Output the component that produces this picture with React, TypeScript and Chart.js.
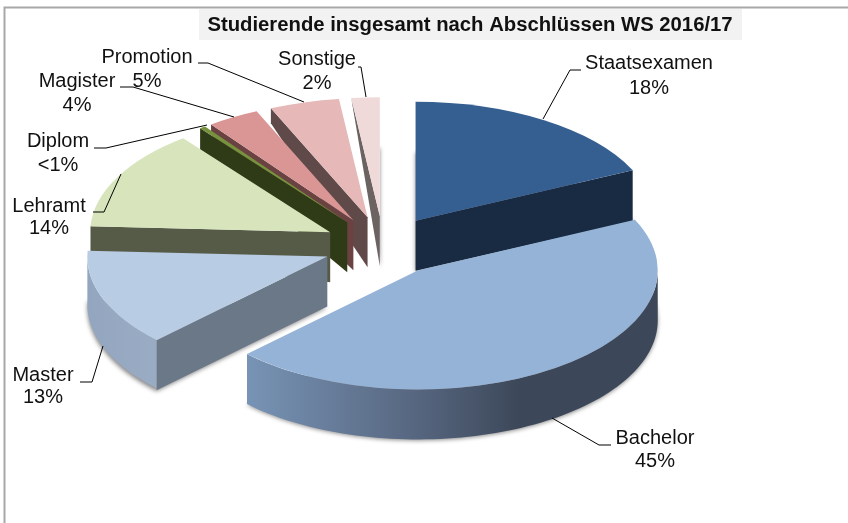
import React, { useEffect, useRef } from "react";
import { Chart, registerables } from "chart.js";

Chart.register(...registerables);

// ---- data ----
const categories = ["Staatsexamen", "Bachelor", "Master", "Lehramt", "Diplom", "Magister", "Promotion", "Sonstige"];
const shares = [18, 44.6, 13.2, 13.7, 0.4, 3.5, 4.7, 1.9];
const shareLabels = ["18%", "45%", "13%", "14%", "<1%", "4%", "5%", "2%"];
const titleText = "Studierende insgesamt nach Abschlüssen WS 2016/17";

// ---- styles ----
const topColors = ["#365f91", "#95b3d7", "#b8cce4", "#d7e4bc", "#76923c", "#d99694", "#e6b9b8", "#f0dad9"];
const wallColors = ["#182b43", "#3c4859", "#6b7888", "#565b48", "#2f3a16", "#6a4241", "#5f4a49", "#6b6361"];
const outerDepths = [51, 50, 50, 25, 22, 10, 15, 0];
const paintOrder = [7, 6, 5, 4, 3, 0, 2, 1];
const FONT = '"Liberation Sans", Arial, sans-serif';
const PIE = { cx: 383.4, cy: 246, radius: 240, squash: 0.496, explode: 60, depth: 50 };

// centre of the text, [line1Y, line2Y], and the leader polyline for each label
const labelLayout: { x: number; y1: number; y2: number; leader: number[][] }[] = [
  { x: 649, y1: 63, y2: 88, leader: [[581, 70], [570, 70], [543, 119]] },
  { x: 655, y1: 438, y2: 461, leader: [[611, 445], [599, 445], [552, 418]] },
  { x: 43, y1: 375, y2: 397, leader: [[80, 382], [92, 382], [103, 346]] },
  { x: 49, y1: 206, y2: 228, leader: [[93, 212], [104, 212], [121, 174]] },
  { x: 58, y1: 141, y2: 165, leader: [[94, 148], [106, 148], [207, 125]] },
  { x: 77, y1: 81, y2: 105, leader: [[120, 87], [133, 87], [234, 117]] },
  { x: 147, y1: 57, y2: 81, leader: [[198, 63], [208, 63], [304, 102]] },
  { x: 317, y1: 59, y2: 83, leader: [[358, 67], [361, 67], [366, 97]] },
];

function apexOf(arc: any) {
  const mid = (arc.startAngle + arc.endAngle) / 2;
  return {
    x: PIE.cx + Math.cos(mid) * PIE.explode,
    y: PIE.cy + Math.sin(mid) * PIE.explode * PIE.squash,
  };
}

function rimPoint(apex: { x: number; y: number }, r: number, t: number) {
  return { x: apex.x + Math.cos(t) * r, y: apex.y + Math.sin(t) * r * PIE.squash };
}

function drawFace(ctx: CanvasRenderingContext2D, arc: any, ax: number, ay: number) {
  ctx.save();
  ctx.translate(ax, ay);
  ctx.scale(1, PIE.squash);
  ctx.translate(-arc.x, -arc.y);
  arc.draw(ctx);
  ctx.restore();
}

function drawRadialWall(ctx: CanvasRenderingContext2D, apex: any, r: number, t: number, outerDepth: number, fill: string) {
  const p = rimPoint(apex, r, t);
  ctx.fillStyle = fill;
  ctx.beginPath();
  ctx.moveTo(apex.x, apex.y);
  ctx.lineTo(p.x, p.y);
  ctx.lineTo(p.x, p.y + outerDepth);
  ctx.lineTo(apex.x, apex.y + PIE.depth);
  ctx.closePath();
  ctx.fill();
}

function drawRimWall(ctx: CanvasRenderingContext2D, apex: any, r: number, t0: number, t1: number, depth: number, fill: any) {
  const steps = 80;
  ctx.fillStyle = fill;
  ctx.beginPath();
  for (let i = 0; i <= steps; i++) {
    const p = rimPoint(apex, r, t0 + ((t1 - t0) * i) / steps);
    if (i === 0) ctx.moveTo(p.x, p.y);
    else ctx.lineTo(p.x, p.y);
  }
  for (let i = steps; i >= 0; i--) {
    const p = rimPoint(apex, r, t0 + ((t1 - t0) * i) / steps);
    ctx.lineTo(p.x, p.y + depth);
  }
  ctx.closePath();
  ctx.fill();
}

function drawShadow(ctx: CanvasRenderingContext2D, arc: any, apex: any, clipRight: boolean) {
  const far = 3000;
  ctx.save();
  if (clipRight) {
    ctx.beginPath();
    ctx.rect(apex.x, 0, 848, 523);
    ctx.clip();
  }
  ctx.shadowColor = "rgba(40,40,40,0.55)";
  ctx.shadowBlur = 4;
  ctx.shadowOffsetX = far;
  ctx.shadowOffsetY = 1;
  drawFace(ctx, arc, apex.x - far, apex.y + PIE.depth);
  ctx.restore();
}

const pie3dPlugin = {
  id: "pie3d",
  beforeDraw(chart: any) {
    const { ctx } = chart;
    ctx.save();
    ctx.fillStyle = "#ffffff";
    ctx.fillRect(0, 0, 848, 523);
    ctx.strokeStyle = "#a8a8a8";
    ctx.lineWidth = 2;
    ctx.beginPath();
    ctx.moveTo(4.5, 523);
    ctx.lineTo(4.5, 7.5);
    ctx.lineTo(848, 7.5);
    ctx.stroke();
    ctx.fillStyle = "#f2f2f2";
    ctx.fillRect(199, 9, 543, 31);
    ctx.restore();
  },
  beforeDatasetsDraw(chart: any) {
    const { ctx } = chart;
    const arcs = chart.getDatasetMeta(0).data;
    const r = PIE.radius;
    for (const i of paintOrder) {
      const arc = arcs[i];
      const apex = apexOf(arc);
      const s = arc.startAngle;
      const e = arc.endAngle;
      if (i === 0 || i === 7) drawShadow(ctx, arc, apex, i === 7);
      if (i === 1 || i === 2) {
        drawShadow(ctx, arc, apex, false);
      }
      if (i === 0) {
        drawRadialWall(ctx, apex, r, e, outerDepths[i], wallColors[i]);
      } else if (i === 1) {
        const g = ctx.createLinearGradient(245, 0, 520, 0);
        g.addColorStop(0, "#7894b6");
        g.addColorStop(0.65, "#55647d");
        g.addColorStop(1, wallColors[i]);
        drawRimWall(ctx, apex, r, Math.max(s, 0), e, PIE.depth, g);
      } else {
        drawRadialWall(ctx, apex, r, s, outerDepths[i], wallColors[i]);
        if (i === 2) {
          const g = ctx.createLinearGradient(86, 0, 155, 0);
          g.addColorStop(0, "#93a6bf");
          g.addColorStop(1, "#9aacc4");
          drawRimWall(ctx, apex, r, s, Math.PI, PIE.depth - 2, g);
        }
      }
      drawFace(ctx, arc, apex.x, apex.y);
    }
    return false;
  },
  afterDraw(chart: any) {
    const { ctx } = chart;
    ctx.save();
    ctx.font = `20px ${FONT}`;
    ctx.fillStyle = "#111111";
    ctx.textAlign = "center";
    ctx.textBaseline = "middle";
    categories.forEach((name, i) => {
      const l = labelLayout[i];
      ctx.fillText(name, l.x, l.y1);
      ctx.fillText(shareLabels[i], l.x, l.y2);
      ctx.strokeStyle = "#000000";
      ctx.lineWidth = 1;
      ctx.beginPath();
      l.leader.forEach((p, j) => (j === 0 ? ctx.moveTo(p[0], p[1]) : ctx.lineTo(p[0], p[1])));
      ctx.stroke();
    });
    ctx.restore();
  },
};

export default function App() {
  const ref = useRef<HTMLCanvasElement>(null);
  useEffect(() => {
    const chart = new Chart(ref.current as HTMLCanvasElement, {
      type: "pie",
      data: {
        labels: categories,
        datasets: [{ data: shares, backgroundColor: topColors, borderWidth: 0 }],
      },
      options: {
        animation: false,
        responsive: false,
        radius: PIE.radius,
        layout: { padding: { left: 92 } },
        plugins: {
          legend: { display: false },
          tooltip: { enabled: false },
          title: {
            display: true,
            text: titleText,
            color: "#111111",
            font: { family: FONT, size: 20.3, weight: "bold" },
            padding: { top: 13, bottom: 10 },
          },
        },
      } as any,
      plugins: [pie3dPlugin as any],
    });
    return () => chart.destroy();
  }, []);
  return (
    <div style={{ position: "fixed", left: 0, top: 0, width: 848, height: 523 }}>
      <canvas ref={ref} width={848} height={523} style={{ display: "block" }} />
    </div>
  );
}
